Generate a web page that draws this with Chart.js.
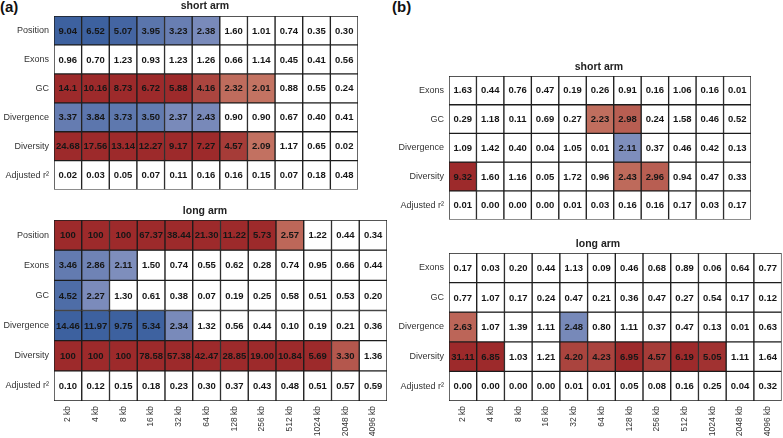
<!DOCTYPE html>
<html>
<head>
<meta charset="utf-8">
<script src="https://cdn.jsdelivr.net/npm/chart.js@4.4.1/dist/chart.umd.min.js"></script>
<style>
  body { margin: 0; background: #fff; }
  #wrap { position: relative; width: 783px; height: 438px; overflow: hidden; font-family: "Liberation Sans", Arial, sans-serif; }
  canvas { position: absolute; }
  .lbl { position: absolute; font-weight: bold; color: #222; white-space: nowrap; line-height: 12px; }
  .panel { position: absolute; font-weight: bold; font-size: 15px; color: #111; line-height: 18px; }
</style>
</head>
<body>
<div id="wrap">
  <div class="panel" style="left:0px; top:-2px;">(a)</div>
  <div class="panel" style="left:392px; top:-2px;">(b)</div>
  <canvas id="aShort" width="400" height="200" style="left:0px; top:0px;"></canvas>
  <canvas id="aLong" width="400" height="238" style="left:0px; top:200px;"></canvas>
  <canvas id="bShort" width="393" height="230" style="left:390px; top:0px;"></canvas>
  <canvas id="bLong" width="393" height="208" style="left:390px; top:230px;"></canvas>
</div>
<script>
// window sizes (columns)
const windowSizes = ['2 kb', '4 kb', '8 kb', '16 kb', '32 kb', '64 kb', '128 kb', '256 kb', '512 kb', '1024 kb', '2048 kb', '4096 kb'];
const shortSizes = windowSizes.slice(0, 11);

const rowsA = ['Position', 'Exons', 'GC', 'Divergence', 'Diversity', 'Adjusted r\u00B2'];
const rowsB = ['Exons', 'GC', 'Divergence', 'Diversity', 'Adjusted r\u00B2'];

// -log10(p) values; negative = negative effect (blue), positive = positive effect (red)
// (a) short arm
const aShortPosition = [-9.04, -6.52, -5.07, -3.95, -3.23, -2.38, 1.60, 1.01, 0.74, 0.35, 0.30];
const aShortExons = [0.96, 0.70, 1.23, 0.93, 1.23, 1.26, 0.66, 1.14, 0.45, 0.41, 0.56];
const aShortGC = [14.1, 10.16, 8.73, 6.72, 5.88, 4.16, 2.32, 2.01, 0.88, 0.55, 0.24];
const aShortDivergence = [-3.37, -3.84, -3.73, -3.50, -2.37, -2.43, 0.90, 0.90, 0.67, 0.40, 0.41];
const aShortDiversity = [24.68, 17.56, 13.14, 12.27, 9.17, 7.27, 4.57, 2.09, 1.17, 0.65, 0.02];
const aShortR2 = [0.02, 0.03, 0.05, 0.07, 0.11, 0.16, 0.16, 0.15, 0.07, 0.18, 0.48];

// (a) long arm
const aLongPosition = [100, 100, 100, 67.37, 38.44, 21.30, 11.22, 5.73, 2.57, 1.22, 0.44, 0.34];
const aLongExons = [-3.46, -2.86, -2.11, 1.50, 0.74, 0.55, 0.62, 0.28, 0.74, 0.95, 0.66, 0.44];
const aLongGC = [-4.52, -2.27, 1.30, 0.61, 0.38, 0.07, 0.19, 0.25, 0.58, 0.51, 0.53, 0.20];
const aLongDivergence = [-14.46, -11.97, -9.75, -5.34, -2.34, 1.32, 0.56, 0.44, 0.10, 0.19, 0.21, 0.36];
const aLongDiversity = [100, 100, 100, 78.58, 57.38, 42.47, 28.85, 19.00, 10.84, 5.69, 3.30, 1.36];
const aLongR2 = [0.10, 0.12, 0.15, 0.18, 0.23, 0.30, 0.37, 0.43, 0.48, 0.51, 0.57, 0.59];

// (b) short arm
const bShortExons = [1.63, 0.44, 0.76, 0.47, 0.19, 0.26, 0.91, 0.16, 1.06, 0.16, 0.01];
const bShortGC = [0.29, 1.18, 0.11, 0.69, 0.27, 2.23, 2.98, 0.24, 1.58, 0.46, 0.52];
const bShortDivergence = [1.09, 1.42, 0.40, 0.04, 1.05, 0.01, -2.11, 0.37, 0.46, 0.42, 0.13];
const bShortDiversity = [9.32, 1.60, 1.16, 0.05, 1.72, 0.96, 2.43, 2.96, 0.94, 0.47, 0.33];
const bShortR2 = [0.01, 0.00, 0.00, 0.00, 0.01, 0.03, 0.16, 0.16, 0.17, 0.03, 0.17];

// (b) long arm
const bLongExons = [0.17, 0.03, 0.20, 0.44, 1.13, 0.09, 0.46, 0.68, 0.89, 0.06, 0.64, 0.77];
const bLongGC = [0.77, 1.07, 0.17, 0.24, 0.47, 0.21, 0.36, 0.47, 0.27, 0.54, 0.17, 0.12];
const bLongDivergence = [2.63, 1.07, 1.39, 1.11, -2.48, 0.80, 1.11, 0.37, 0.47, 0.13, 0.01, 0.63];
const bLongDiversity = [31.11, 6.85, 1.03, 1.21, 4.20, 4.23, 6.95, 4.57, 6.19, 5.05, 1.11, 1.64];
const bLongR2 = [0.00, 0.00, 0.00, 0.00, 0.01, 0.01, 0.05, 0.08, 0.16, 0.25, 0.04, 0.32];

// printed with one decimal in the original figure
const oneDecimal = [14.1];

function fmt(v) {
  const a = Math.abs(v);
  if (a >= 100) return a.toFixed(0);
  if (oneDecimal.includes(a)) return a.toFixed(1);
  return a.toFixed(2);
}

const RED_LIGHT = [195, 115, 98], RED_DARK = [157, 42, 43];
const BLUE_LIGHT = [128, 143, 189], BLUE_DARK = [61, 97, 159];

function cellColor(v) {
  const a = Math.abs(v);
  if (a < 2) return '#ffffff';
  const t = Math.min(1, (a - 2) / 3.4);
  const lo = v > 0 ? RED_LIGHT : BLUE_LIGHT;
  const hi = v > 0 ? RED_DARK : BLUE_DARK;
  const c = lo.map((x, i) => Math.round(x + (hi[i] - x) * t));
  return 'rgb(' + c.join(',') + ')';
}

const cellText = {
  id: 'cellText',
  afterDatasetsDraw(chart) {
    const ctx = chart.ctx;
    ctx.save();
    ctx.font = 'bold 9.5px "Liberation Sans", Arial, sans-serif';
    ctx.fillStyle = '#161616';
    ctx.textAlign = 'center';
    ctx.textBaseline = 'middle';
    chart.data.datasets.forEach((ds, di) => {
      chart.getDatasetMeta(di).data.forEach((bar, j) => {
        const p = bar.getCenterPoint();
        ctx.fillText(fmt(ds.values[j]), p.x, p.y + 0.5);
      });
    });
    ctx.restore();
  }
};

function makeHeatmap(id, rows, cols, matrix, opts) {
  const datasets = rows.map((name, r) => ({
    label: name,
    values: matrix[r],
    data: matrix[r].map(() => [r - 0.5, r + 0.5]),
    backgroundColor: matrix[r].map(cellColor),
    borderColor: '#1c1c1c',
    borderWidth: 1,
    borderSkipped: false,
    grouped: false,
    categoryPercentage: 1,
    barPercentage: 1
  }));
  new Chart(document.getElementById(id), {
    type: 'bar',
    data: { labels: cols, datasets: datasets },
    options: {
      responsive: false,
      animation: false,
      layout: { padding: opts.padding },
      plugins: { legend: { display: false }, tooltip: { enabled: false } },
      scales: {
        x: {
          type: 'category',
          display: opts.showX,
          grid: { display: false, drawTicks: false },
          border: { display: false },
          ticks: {
            autoSkip: false, minRotation: 90, maxRotation: 90, padding: 5,
            color: '#333', font: { family: '"Liberation Sans", Arial, sans-serif', size: 8.5 }
          },
          afterFit: s => { s.height = opts.xHeight || 0; }
        },
        y: {
          type: 'linear',
          reverse: true,
          min: -0.5,
          max: rows.length - 0.5,
          grid: { display: false, drawTicks: false },
          border: { display: false },
          afterBuildTicks: s => { s.ticks = rows.map((_, i) => ({ value: i })); },
          ticks: {
            padding: 5, color: '#333',
            font: { family: '"Liberation Sans", Arial, sans-serif', size: 9 },
            callback: v => rows[v]
          },
          afterFit: s => { s.width = opts.yWidth; }
        }
      }
    },
    plugins: [cellText]
  });
}

makeHeatmap('aShort', rowsA, shortSizes,
  [aShortPosition, aShortExons, aShortGC, aShortDivergence, aShortDiversity, aShortR2],
  { padding: { top: 16, right: 42, bottom: 7, left: 0 }, yWidth: 54, showX: false });

makeHeatmap('aLong', rowsA, windowSizes,
  [aLongPosition, aLongExons, aLongGC, aLongDivergence, aLongDiversity, aLongR2],
  { padding: { top: 20, right: 13, bottom: 0, left: 0 }, yWidth: 54, showX: true, xHeight: 37 });

makeHeatmap('bShort', rowsB, shortSizes,
  [bShortExons, bShortGC, bShortDivergence, bShortDiversity, bShortR2],
  { padding: { top: 76, right: 32, bottom: 6, left: 0 }, yWidth: 59, showX: false });

makeHeatmap('bLong', rowsB, windowSizes,
  [bLongExons, bLongGC, bLongDivergence, bLongDiversity, bLongR2],
  { padding: { top: 23, right: 1, bottom: 0, left: 0 }, yWidth: 59, showX: true, xHeight: 37 });

// sub-panel titles
const titles = [
  ['short arm', 205, 5], ['long arm', 205, 210],
  ['short arm', 599, 66], ['long arm', 598, 243]
];
const wrap = document.getElementById('wrap');
titles.forEach(([text, x, y]) => {
  const d = document.createElement('div');
  d.className = 'lbl';
  d.style.fontSize = '10.5px';
  d.style.left = x + 'px';
  d.style.top = (y - 6) + 'px';
  d.style.transform = 'translateX(-50%)';
  d.textContent = text;
  wrap.appendChild(d);
});
</script>
</body>
</html>
